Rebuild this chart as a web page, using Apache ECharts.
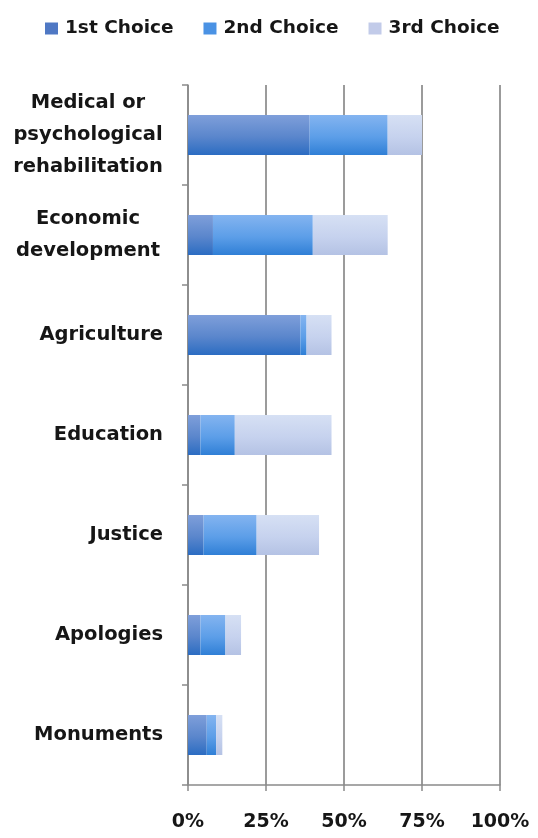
<!DOCTYPE html>
<html>
<head>
<meta charset="utf-8">
<script src="https://cdn.jsdelivr.net/npm/echarts@6/dist/echarts.min.js"></script>
<style>
  html, body { margin: 0; padding: 0; background: #ffffff; }
  #chart { width: 538px; height: 838px; }
</style>
</head>
<body>
<div id="chart"></div>
<script>
// Preferred reparation measures, stacked by choice rank (percent of respondents)
const categories = [
  'Medical or\npsychological\nrehabilitation',
  'Economic\ndevelopment',
  'Agriculture',
  'Education',
  'Justice',
  'Apologies',
  'Monuments'
];
const seriesNames = ['1st Choice', '2nd Choice', '3rd Choice'];
const firstChoice  = [39, 8, 36, 4, 5, 4, 6];
const secondChoice = [25, 32, 2, 11, 17, 8, 3];
const thirdChoice  = [11, 24, 8, 31, 20, 5, 2];
const xTicks = [0, 25, 50, 75, 100];

const FONT = '"DejaVu Sans", "Open Sans", sans-serif';
const TEXT = '#161616';

function grad(top, mid, bottom) {
  return new echarts.graphic.LinearGradient(0, 0, 0, 1, [
    { offset: 0, color: top },
    { offset: 0.55, color: mid },
    { offset: 1, color: bottom }
  ]);
}

const fills = [
  grad('#7f9fda', '#5a86cc', '#2b6cc2'),
  grad('#84b4f0', '#5c9ee8', '#2f7fd6'),
  grad('#d6e0f4', '#c6d2ee', '#b4c2e4')
];
const legendColors = ['#4f78c4', '#4a92e4', '#c2cbe9'];

const chart = echarts.init(document.getElementById('chart'), null, { renderer: 'canvas' });

const values = [firstChoice, secondChoice, thirdChoice];

chart.setOption({
  backgroundColor: '#ffffff',
  animation: false,
  legend: {
    top: 14,
    left: 40,
    itemWidth: 13,
    itemHeight: 12,
    itemGap: 30,
    icon: 'rect',
    textStyle: { fontFamily: FONT, fontWeight: 'bold', fontSize: 18.5, color: TEXT, padding: [0, 0, 0, 2] },
    data: seriesNames.map((n, i) => ({ name: n, itemStyle: { color: legendColors[i] } }))
  },
  grid: { left: 188, right: 38, top: 85, bottom: 53, containLabel: false },
  xAxis: {
    type: 'value',
    min: 0,
    max: 100,
    interval: 25,
    axisLine: { show: true, lineStyle: { color: '#8a8a8a', width: 1.5 } },
    axisTick: { show: true, length: 6, lineStyle: { color: '#8a8a8a', width: 1.5 } },
    splitLine: { show: true, lineStyle: { color: '#7a7a7a', width: 1.5 } },
    axisLabel: {
      margin: 28,
      fontFamily: FONT, fontWeight: 'bold', fontSize: 19, color: TEXT,
      formatter: v => (xTicks.indexOf(v) >= 0 ? v + '%' : '')
    }
  },
  yAxis: {
    type: 'category',
    inverse: true,
    data: categories,
    axisLine: { show: true, lineStyle: { color: '#8a8a8a', width: 1.5 } },
    axisTick: { show: true, length: 6, lineStyle: { color: '#8a8a8a', width: 1.5 } },
    axisLabel: {
      margin: 25,
      align: 'right',
      fontFamily: FONT, fontWeight: 'bold', fontSize: 19.5, color: TEXT,
      lineHeight: 32,
      formatter: function (v) {
        if (v.indexOf('\n') < 0) return v;
        return v.split('\n').map(s => '{c|' + s + '}').join('\n');
      },
      rich: {
        c: {
          width: 150,
          align: 'center',
          fontFamily: FONT, fontWeight: 'bold', fontSize: 19.5, color: TEXT,
          lineHeight: 32
        }
      }
    }
  },
  series: seriesNames.map((n, i) => ({
    name: n,
    type: 'bar',
    stack: 'total',
    barWidth: '40%',
    data: values[i],
    itemStyle: { color: fills[i] }
  }))
});
</script>
</body>
</html>
